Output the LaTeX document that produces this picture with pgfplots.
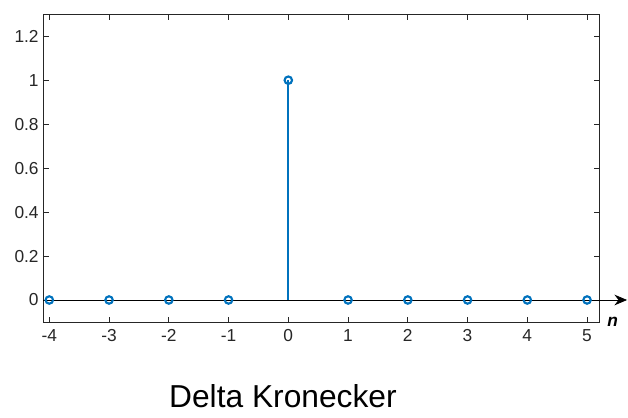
\documentclass[border=0pt]{standalone}
\usepackage{fontspec}
\setmainfont{Liberation Sans}
\usepackage{pgfplots}
\pgfplotsset{compat=1.18}
\usetikzlibrary{arrows.meta}
\definecolor{mblue}{rgb}{0,0.447,0.741}
\begin{document}
\begin{tikzpicture}
\begin{axis}[
  scale only axis, width=416.8pt, height=230.8pt,
  xmin=-4.1, xmax=5.2, ymin=-0.1, ymax=1.3,
  xtick={-4,-3,-2,-1,0,1,2,3,4,5},
  ytick={0,0.2,0.4,0.6,0.8,1,1.2},
  yticklabels={0,0.2,0.4,0.6,0.8,1,1.2},
  tick align=inside, major tick length=4pt,
  axis line style={black!85, line width=0.6pt},
  tick style={black!85, line width=0.6pt},
  ticklabel style={font=\fontsize{13}{15}\selectfont, text=black!85},
  xticklabel style={yshift=-2pt},
  /pgf/number format/assume math mode=true,
  clip=false,
]
\addplot[black, line width=0.65pt, -{Stealth[length=9.5pt, width=8pt]}] coordinates {(-4.1,0) (5.67,0)};
\addplot[mblue, line width=1.5pt, ycomb, mark=o, mark size=2.8pt,
  mark options={line width=1.6pt, fill=white}] coordinates {
  (-4,0) (-3,0) (-2,0) (-1,0) (0,1) (1,0) (2,0) (3,0) (4,0) (5,0)};
\node at (axis cs:5.43,-0.1) {\fontsize{13}{15}\selectfont\textbf{\textit{n}}};
\node[anchor=base, inner sep=0pt] at (axis cs:-0.09,-0.491) {\fontsize{23.8}{28}\selectfont Delta Kronecker};
\end{axis}
\pgfresetboundingbox
\path[use as bounding box] ([xshift=-32.5pt, yshift=-72pt]current axis.south west) rectangle ([xshift=21.75pt, yshift=10.7pt]current axis.north east);
\end{tikzpicture}
\end{document}
